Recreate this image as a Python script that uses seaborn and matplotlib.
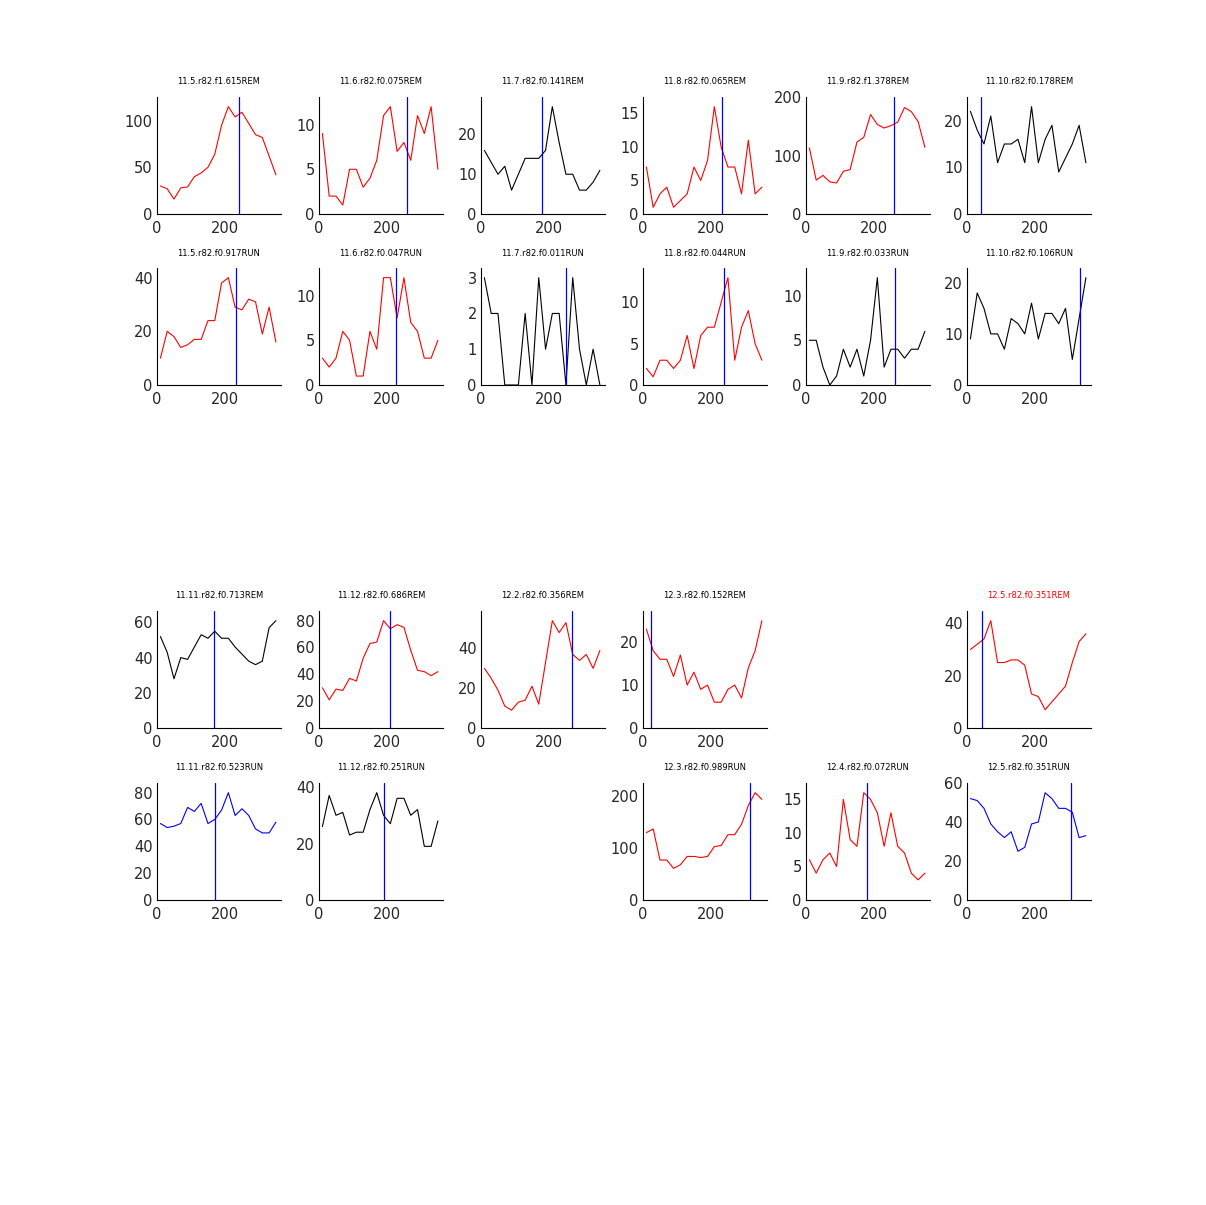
import numpy as np
import pandas as pd
import matplotlib
matplotlib.use("Agg")
import matplotlib.pyplot as plt
import seaborn as sns

# phase bins (deg)
phase = [10, 30, 50, 70, 90, 110, 130, 150, 170, 190, 210, 230, 250, 270, 290, 310, 330, 350]

titles = [
    "11.5.r82.f1.615REM", "11.6.r82.f0.075REM", "11.7.r82.f0.141REM",
    "11.8.r82.f0.065REM", "11.9.r82.f1.378REM", "11.10.r82.f0.178REM",
    "11.5.r82.f0.917RUN", "11.6.r82.f0.047RUN", "11.7.r82.f0.011RUN",
    "11.8.r82.f0.044RUN", "11.9.r82.f0.033RUN", "11.10.r82.f0.106RUN",
    "11.11.r82.f0.713REM", "11.12.r82.f0.686REM", "12.2.r82.f0.356REM",
    "12.3.r82.f0.152REM", "12.5.r82.f0.351REM",
    "11.11.r82.f0.523RUN", "11.12.r82.f0.251RUN", "12.3.r82.f0.989RUN",
    "12.4.r82.f0.072RUN", "12.5.r82.f0.351RUN",
]

rates = [
    [30, 27, 16, 28, 29, 40, 44, 50, 64, 95, 115, 104, 109, 97, 85, 82, 62, 42],
    [9, 2, 2, 1, 5, 5, 3, 4, 6, 11, 12, 7, 8, 6, 11, 9, 12, 5],
    [16, 13, 10, 12, 6, 10, 14, 14, 14, 16, 27, 18, 10, 10, 6, 6, 8, 11],
    [7, 1, 3, 4, 1, 2, 3, 7, 5, 8, 16, 10, 7, 7, 3, 11, 3, 4],
    [113, 58, 66, 55, 53, 73, 76, 123, 131, 170, 153, 147, 151, 157, 182, 175, 158, 114],
    [22, 18, 15, 21, 11, 15, 15, 16, 11, 23, 11, 16, 19, 9, 12, 15, 19, 11],
    [10, 20, 18, 14, 15, 17, 17, 24, 24, 38, 40, 29, 28, 32, 31, 19, 29, 16],
    [3, 2, 3, 6, 5, 1, 1, 6, 4, 12, 12, 7.5, 12, 7, 6, 3, 3, 5],
    [3, 2, 2, 0, 0, 0, 2, 0, 3, 1, 2, 2, 0, 3, 1, 0, 1, 0],
    [2, 1, 3, 3, 2, 3, 6, 2, 6, 7, 7, 10, 13, 3, 7, 9, 5, 3],
    [5, 5, 2, 0, 1, 4, 2, 4, 1, 5, 12, 2, 4, 4, 3, 4, 4, 6],
    [9, 18, 15, 10, 10, 7, 13, 12, 10, 16, 9, 14, 14, 12, 15, 5, 13, 21],
    [52, 43, 28, 40, 39, 46, 53, 51, 55, 51, 51, 46, 42, 38, 36, 38, 57, 61],
    [30, 21, 29, 28, 37, 35, 52, 63, 64, 80, 74, 77, 75, 58, 43, 42, 39, 42],
    [30, 25, 19, 11, 9, 13, 14, 21, 12, 33, 54, 48, 53, 37, 34, 37, 30, 39],
    [23, 18, 16, 16, 12, 17, 10, 13, 9, 10, 6, 6, 9, 10, 7, 14, 18, 25],
    [30, 32, 34, 41, 25, 25, 26, 26, 24, 13, 12, 7, 10, 13, 16, 25, 33, 36],
    [57, 54, 55, 57, 69, 66, 72, 57, 60, 67, 80, 63, 68, 63, 53, 50, 50, 58],
    [26, 37, 30, 31, 23, 24, 24, 32, 38, 30, 27, 36, 36, 30, 32, 19, 19, 28],
    [130, 137, 77, 77, 61, 68, 84, 84, 82, 84, 103, 105, 126, 126, 146, 182, 207, 194],
    [6, 4, 6, 7, 5, 15, 9, 8, 16, 15, 13, 8, 13, 8, 7, 4, 3, 4],
    [52, 51, 47, 39, 35, 32, 35, 25, 27, 39, 40, 55, 52, 47, 47, 45, 32, 33],
]

line_colors = ["red", "red", "black", "red", "red", "black",
               "red", "red", "black", "red", "black", "black",
               "black", "red", "red", "red", "red",
               "blue", "black", "red", "red", "blue"]
title_colors = ["black"] * 16 + ["red"] + ["black"] * 5

vline_x = [241, 260, 180, 232, 258, 41,
           232, 227, 249, 238, 261, 332,
           168, 210, 267, 25, 44,
           172, 192, 316, 181, 307]

ytick_step = [50, 5, 10, 5, 100, 10,
              20, 5, 1, 5, 5, 10,
              20, 20, 20, 10, 20,
              20, 20, 100, 5, 20]

# grid slots (row, col) for each panel
slots = [(0, c) for c in range(6)] + [(1, c) for c in range(6)] + \
        [(2, 0), (2, 1), (2, 2), (2, 3), (2, 5)] + \
        [(3, 0), (3, 1), (3, 3), (3, 4), (3, 5)]

sns.set_style("white")
plt.rcParams["font.family"] = ["DejaVu Sans"]

W, H = 1206, 1205
fig = plt.figure(figsize=(W / 100, H / 100), dpi=100)

col_left = [157, 319, 481, 643, 806, 967]
row_top = [97, 268, 611, 783]
aw, ah = 124, 117

for i, title in enumerate(titles):
    r, c = slots[i]
    ax = fig.add_axes([col_left[c] / W, 1 - (row_top[r] + ah) / H, aw / W, ah / H])
    df = pd.DataFrame({"phase": phase, "rate": rates[i]})
    sns.lineplot(data=df, x="phase", y="rate", ax=ax, color=line_colors[i], linewidth=0.8)
    step = ytick_step[i]
    ymax = max(rates[i]) * 1.09
    # snap to a tick only when it is very close above
    nxt = np.ceil(ymax / step) * step
    if nxt - ymax < 0.012 * ymax:
        ymax = nxt
    ax.axvline(vline_x[i], color="blue", linewidth=0.9)
    ax.set_xlim(0, 365)
    ax.set_ylim(0, ymax)
    ax.set_xticks([0, 200])
    ax.set_yticks(np.arange(0, ymax + 1e-9, step))
    ax.set_xlabel("")
    ax.set_ylabel("")
    ax.set_title(title, fontsize=6, color=title_colors[i], pad=9)
    ax.tick_params(axis="y", labelsize=10.5, length=0, pad=3)
    ax.tick_params(axis="x", labelsize=10.5, length=0, pad=5)
    for s in ["top", "right"]:
        ax.spines[s].set_visible(False)
    for s in ["left", "bottom"]:
        ax.spines[s].set_color("black")
        ax.spines[s].set_linewidth(0.8)

fig.savefig("out.png", dpi=100)
